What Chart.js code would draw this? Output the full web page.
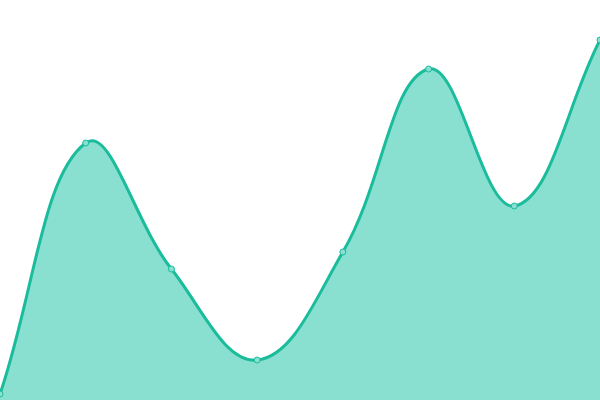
<!DOCTYPE html>
<html>
<head>
<meta charset="utf-8">
<style>
  html, body { margin: 0; padding: 0; background: #fff; }
  #chart { display: block; }
</style>
<script src="https://cdn.jsdelivr.net/npm/chart.js@4"></script>
</head>
<body>
<canvas id="chart" width="600" height="400"></canvas>
<script>
// data
const labels = ["1", "2", "3", "4", "5", "6", "7", "8"];
const values = [1.5, 64.25, 32.75, 10, 37, 82.75, 48.5, 90];
const yMin = 0;
const yMax = 100;

const ctx = document.getElementById("chart").getContext("2d");
const chart = new Chart(ctx, {
  type: "line",
  data: {
    labels: labels,
    datasets: [
      {
        data: values,
        fill: "origin",
        backgroundColor: "#8ae0d0",
        borderColor: "#1abc9c",
        borderWidth: 3,
        tension: 0.4,
        pointRadius: 3,
        pointBackgroundColor: "#8ae0d0",
        pointBorderColor: "#1abc9c",
        pointBorderWidth: 1,
        clip: 5,
      },
    ],
  },
  options: {
    responsive: false,
    animation: false,
    layout: { padding: 0, autoPadding: false },
    plugins: {
      legend: { display: false },
      tooltip: { enabled: false },
    },
    scales: {
      x: { display: false },
      y: { display: false, min: yMin, max: yMax },
    },
  },
});
</script>
</body>
</html>
